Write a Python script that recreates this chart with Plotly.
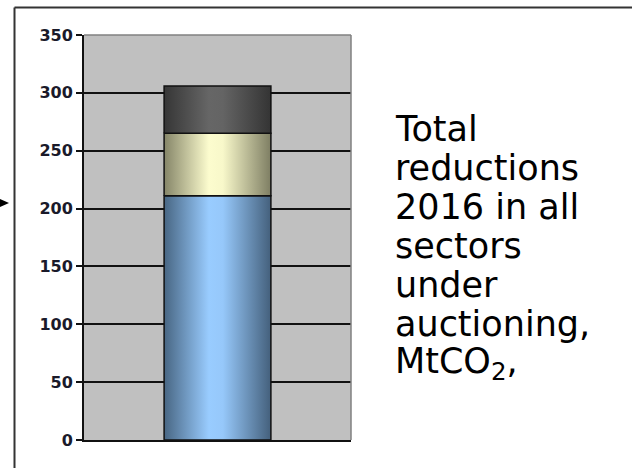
import numpy as np
import plotly.graph_objects as go

# --------------------- Data
segments = ['Sector A', 'Sector B', 'Sector C']
reductions = [211, 54, 41]          # MtCO2, stacked bottom to top
y_ticks = [0, 50, 100, 150, 200, 250, 300, 350]
text_lines = ['Total', 'reductions', '2016 in all', 'sectors', 'under',
              'auctioning,', 'MtCO<sub>2</sub>,']

# cylinder-like shading for each segment (edge, centre, edge)
shades = [
    [[0, '#486683'], [0.42, '#99ccff'], [0.55, '#96c8fa'], [1, '#44607c']],
    [[0, '#858568'], [0.42, '#fcfcce'], [0.55, '#f8f8ca'], [1, '#7e7e63']],
    [[0, '#363636'], [0.42, '#666666'], [0.55, '#646464'], [1, '#343434']],
]

W, H = 632, 468
L, R, T, B = 84, 281, 35, 28


def px_x(px):
    return (px - L) / (W - L - R)


def px_y(py):
    return (H - B - py) / (H - T - B)


fig = go.Figure()

# Stacked bar drawn as filled polygons so the shading can be applied
half = 0.2
tops = np.cumsum(reductions)
bases = tops - np.array(reductions)
for name, lo, hi, cs in zip(segments, bases, tops, shades):
    fig.add_trace(
        go.Scatter(
            x=[-half, half, half, -half, -half],
            y=[lo, lo, hi, hi, lo],
            mode='lines', fill='toself', name=name,
            line=dict(color='#111111', width=1.5),
            fillgradient=dict(type='horizontal', colorscale=cs),
            showlegend=False, hoverinfo='skip'))

# Axes
fig.update_xaxes(
    range=[-0.5, 0.5], showgrid=False, zeroline=False,
    showticklabels=False, ticks='',
    showline=True, linecolor='#111111', linewidth=2)

fig.update_yaxes(
    range=[0, 350], tickvals=y_ticks, showgrid=True,
    gridcolor='#111111', gridwidth=1.5, zeroline=False,
    showline=True, linecolor='#111111', linewidth=2,
    ticks='outside', ticklen=6, tickwidth=1.5, tickcolor='#111111',
    tickfont=dict(family='DejaVu Sans', size=16, weight='bold',
                  color='#1a1a2a'))

# Text block on the right
annotations = []
for i, line in enumerate(text_lines):
    annotations.append(dict(
        text=line, xref='paper', yref='paper',
        x=px_x(393), y=px_y(129 + 39 * i),
        xanchor='left', yanchor='middle', showarrow=False,
        font=dict(family='DejaVu Sans', size=35, color='#000000')))

# Frame lines: plot border (grey) and outer box (dark)
shapes = [
    dict(type='line', xref='paper', yref='paper', x0=0, x1=1, y0=1, y1=1,
         line=dict(color='#808080', width=1.5)),
    dict(type='line', xref='paper', yref='paper', x0=1, x1=1, y0=0, y1=1,
         line=dict(color='#808080', width=1.5)),
    dict(type='line', xref='paper', yref='paper',
         x0=px_x(14.5), x1=px_x(640), y0=px_y(7.5), y1=px_y(7.5),
         line=dict(color='#333333', width=2)),
    dict(type='line', xref='paper', yref='paper',
         x0=px_x(14.5), x1=px_x(14.5), y0=px_y(7.5), y1=px_y(480),
         line=dict(color='#333333', width=2)),
    dict(type='path', xref='paper', yref='paper', fillcolor='#000000',
         line=dict(width=0),
         path='M {} {} L {} {} L {} {} Z'.format(
             px_x(0), px_y(199), px_x(9), px_y(203), px_x(0), px_y(207))),
]

fig.update_layout(
    width=W, height=H,
    margin=dict(l=L, r=R, t=T, b=B),
    paper_bgcolor='#ffffff', plot_bgcolor='#c0c0c0',
    annotations=annotations, shapes=shapes,
    showlegend=False)

# page margin off so the figure sits at the window corner
fig.write_html("out.html", config={'displayModeBar': False},
               post_script="document.body.style.margin='0';")
